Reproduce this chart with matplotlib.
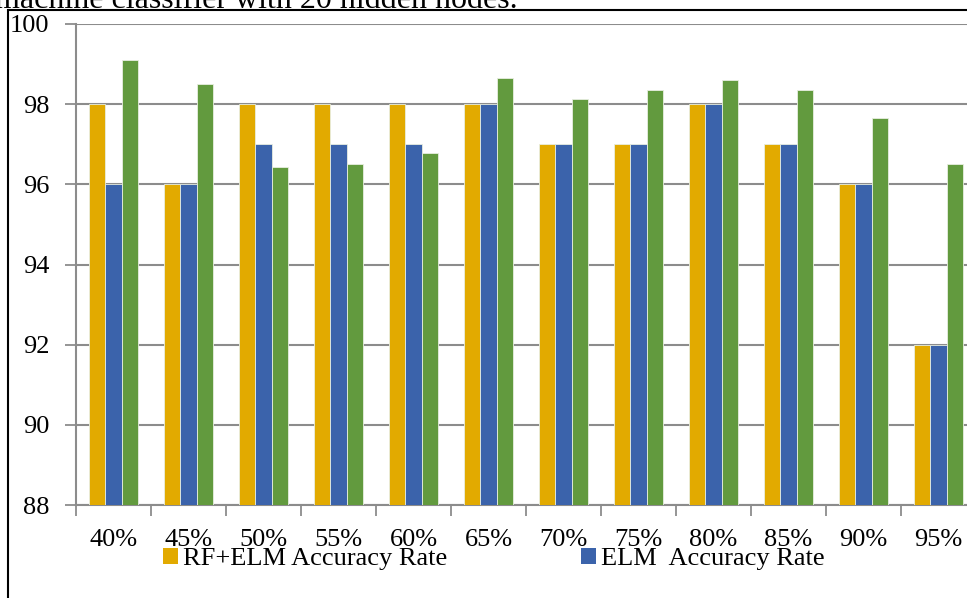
import numpy as np
import matplotlib.pyplot as plt
from matplotlib.patches import Rectangle, Patch

plt.rcParams['font.family'] = ['Liberation Serif', 'DejaVu Serif']

# data
categories = ['40%', '45%', '50%', '55%', '60%', '65%', '70%', '75%', '80%', '85%', '90%', '95%']
rf_elm = [98, 96, 98, 98, 98, 98, 97, 97, 98, 97, 96, 92]
elm = [96, 96, 97, 97, 97, 98, 97, 97, 98, 97, 96, 92]
third = [99.11, 98.5, 96.44, 96.5, 96.79, 98.65, 98.12, 98.36, 98.6, 98.35, 97.65, 96.5]
series_names = ['RF+ELM Accuracy Rate', 'ELM  Accuracy Rate', 'RF+ELM Recognition Rate']
colors = ['#E2AA00', '#3B63AB', '#629A3E']

FS = 19

fig = plt.figure(figsize=(9.67, 5.98), dpi=100)
ax = fig.add_axes([76/967, 1-505/598, 900/967, 481/598])

x = np.arange(len(categories))
w = 0.222
for i, (vals, c) in enumerate(zip([rf_elm, elm, third], colors)):
    ax.bar(x + (i-1)*w, np.array(vals) - 88, width=w, bottom=88, color=c,
           edgecolor='#e8eee0', linewidth=0.6, zorder=3)

ax.set_ylim(88, 100)
ax.set_xlim(-0.5, len(categories) - 0.5)
ax.set_yticks(np.arange(88, 101, 2))
ax.yaxis.grid(True, color='#8c8c8c', linewidth=1.5, zorder=0)
ax.set_xticks(x)
ax.set_xticklabels(categories)
ax.set_xticks(np.arange(-0.5, len(categories), 1), minor=True)
ax.tick_params(axis='x', which='major', length=0, pad=17, labelsize=FS)
ax.tick_params(axis='x', which='minor', length=8, width=1.3, color='#8c8c8c')
ax.tick_params(axis='y', length=8, width=1.3, color='#8c8c8c', pad=11, labelsize=FS)
for s in ['top', 'right']:
    ax.spines[s].set_visible(False)
for s in ['left', 'bottom']:
    ax.spines[s].set_color('#8c8c8c')
    ax.spines[s].set_linewidth(1.5)

# legend entries laid out like the original (third one runs past the right edge)
leg_x = [163, 581, 999]
for name, c, lx in zip(series_names, colors, leg_x):
    fig.legend([Patch(facecolor=c, edgecolor='none')], [name], loc='center left',
               bbox_to_anchor=(lx/967, 1-559/598), frameon=False, fontsize=FS,
               handlelength=0.55, handleheight=0.55, handletextpad=0.2,
               borderaxespad=0, borderpad=0)

# outer frame and clipped caption above it
fig.patches.append(Rectangle((8/967, -0.1), 1.1, 1.1 - 10/598, transform=fig.transFigure,
                             fill=False, edgecolor='black', linewidth=1.5))
fig.text(-0.005, 1 - 7.5/598, 'machine classifier with 20 hidden nodes.', fontsize=23,
         va='baseline', ha='left')

fig.savefig('out.png', dpi=100)
